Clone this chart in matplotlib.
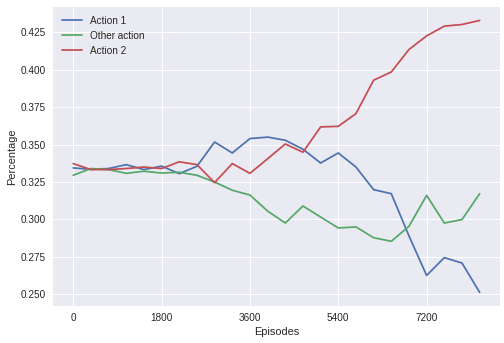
import matplotlib
matplotlib.use("Agg")
import matplotlib.pyplot as plt
import numpy as np

plt.style.use("seaborn-v0_8")

episodes = np.arange(0, 8281, 360)
action1 = [0.3344, 0.3335, 0.3340, 0.3366, 0.3333, 0.3356, 0.3306, 0.3355,
           0.3517, 0.3444, 0.3540, 0.3550, 0.3529, 0.3469, 0.3377, 0.3444,
           0.3350, 0.3199, 0.3172, 0.2890, 0.2626, 0.2745, 0.2709, 0.2513]
other_action = [0.3295, 0.3340, 0.3333, 0.3308, 0.3322, 0.3310, 0.3315, 0.3295,
                0.3250, 0.3195, 0.3163, 0.3056, 0.2976, 0.3090, 0.3016, 0.2943,
                0.2950, 0.2878, 0.2854, 0.2954, 0.3161, 0.2976, 0.2999, 0.3172]
action2 = [0.3373, 0.3333, 0.3333, 0.3340, 0.3350, 0.3340, 0.3385, 0.3366,
           0.3246, 0.3373, 0.3308, 0.3405, 0.3504, 0.3449, 0.3618, 0.3622,
           0.3707, 0.3930, 0.3985, 0.4135, 0.4226, 0.4291, 0.4302, 0.4329]

fig = plt.figure(figsize=(504 / 72, 343 / 72), dpi=72)
ax = fig.add_subplot(111)
fig.subplots_adjust(left=0.105, right=0.992, top=0.980, bottom=0.108)

ax.plot(episodes, action1, label="Action 1", color="#4C72B0", lw=1.75)
ax.plot(episodes, other_action, label="Other action", color="#55A868", lw=1.75)
ax.plot(episodes, action2, label="Action 2", color="#C44E52", lw=1.75)

ax.set_xticks([0, 1800, 3600, 5400, 7200])
ax.set_xlabel("Episodes")
ax.set_ylabel("Percentage")
ax.legend(loc="upper left")

fig.savefig("out.png", dpi=72)
